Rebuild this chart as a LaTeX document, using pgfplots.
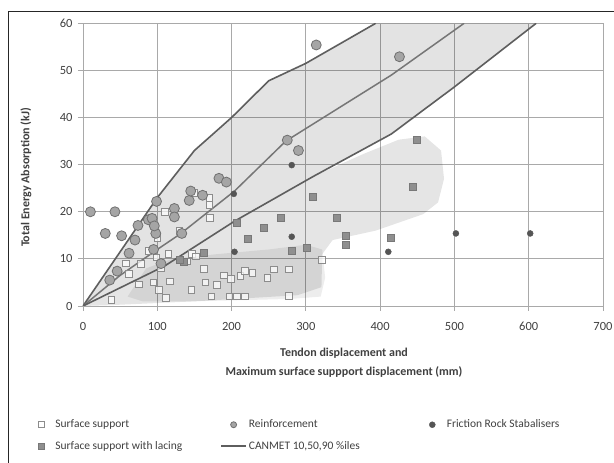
\documentclass[border=0pt]{standalone}
\usepackage{pgfplots}
\pgfplotsset{compat=1.18}
\usepackage{fontspec}
\setmainfont{Carlito}
\definecolor{gridc}{HTML}{A9A9A9}
\definecolor{linec}{HTML}{5E5E5E}
\definecolor{txt}{HTML}{404040}
\definecolor{reinf}{HTML}{A5A5A5}
\definecolor{reinfe}{HTML}{707070}
\definecolor{lace}{HTML}{8F8F8F}
\definecolor{lacee}{HTML}{787878}
\definecolor{ssedge}{HTML}{8C8C8C}
\definecolor{frs}{HTML}{555555}
\pgfplotsset{legimg/.style={legend image code/.code={\path[draw=none,fill=none] (0pt,-3pt) rectangle (25pt,3pt); \draw[mark repeat=2,mark phase=2,##1,mark size=3pt] plot coordinates {(0pt,0pt) (12.5pt,0pt) (25pt,0pt)};}}}
\begin{document}
\begin{tikzpicture}[x=1pt,y=1pt]
\useasboundingbox (0,0) rectangle (614,463);
\fill[white] (0,0) rectangle (614,463);
\draw[line width=1.2pt, black!85] (8.6,-5) -- (8.6,451.3) -- (620,451.3);
\begin{axis}[
  scale only axis, width=520pt, height=282.7pt,
  at={(83pt,157pt)}, anchor=origin,
  xmin=0, xmax=700, ymin=0, ymax=60,
  xtick={0,100,...,700}, ytick={0,10,...,60},
  grid=major, major grid style={gridc, line width=0.9pt},
  axis line style={gridc, line width=0.9pt},
  tick style={gridc, line width=0.9pt},
  tick align=outside, tick pos=left, major tick length=5pt,
  /pgf/number format/assume math mode=true,
  ticklabel style={font=\fontsize{12.5}{14}\selectfont, text=txt},
  xticklabel style={yshift=-8pt},
  yticklabel style={xshift=-2pt},
  legend columns=3, legend cell align=left,
  legend style={draw=none, fill=none, inner sep=0pt, outer sep=0pt,
    font=\fontsize{11.5}{13}\selectfont, text=txt,
    at={(axis description cs:-0.105,-0.458)}, anchor=west, row sep=8pt,
    /tikz/column 2/.style={column sep=36pt},
    /tikz/column 4/.style={column sep=58pt}},
]
% 10-90 percentile band
\addplot[draw=none, fill=black, fill opacity=0.11, forget plot] coordinates {
 (0,0) (50,11.5) (100,23) (150,33) (200,40) (250,47.8) (300,51.5) (394,60)
 (610,60) (500,46.5) (415,36.5) (310,27.5) (204,18) (110,8.5) (0,0)};
% surface support cloud
\addplot[draw=none, fill=black, fill opacity=0.10, forget plot] coordinates {
 (0,0) (110,8.5) (204,18) (310,27.5) (378,32.3) (425,35.3) (460,36) (482,33)
 (486,27) (478,22) (458,19.5) (394,16) (336,14) (322,11) (321,4) (289,2.3)
 (152,1) (40,0.2) (0,0)};
\addplot[draw=none, fill=black, fill opacity=0.07, forget plot] coordinates {
 (60,2) (85,8) (120,10) (180,11) (250,12) (300,13) (322,12) (326,6) (320,2)
 (280,1.5) (150,1) (80,1) (60,2)};
% CANMET lines
\addplot[linec, line width=1.6pt, forget plot] coordinates {
 (0,0) (50,11.5) (100,23) (150,33) (200,40) (250,47.8) (300,51.5) (394,60)};
\addplot[linec!85, line width=1.5pt, forget plot] coordinates {
 (0,0) (50,6.5) (100,12) (131,15.3) (204,24.4) (273,35) (415,49) (513,60)};
\addplot[linec, line width=1.6pt, forget plot] coordinates {
 (0,0) (110,8.5) (204,18) (310,27.5) (415,36.5) (500,46.5) (610,60)};
% Surface support
\addplot[only marks, legimg, mark=square*, mark size=3.3pt,
  mark options={fill=white, fill opacity=0.7, draw=ssedge, line width=0.8pt}] coordinates {
 (38,1.3) (112,1.7) (173,2) (197,2) (207,2) (218,2) (277,2.1) (102,3.4)
 (146,3.4) (117,5.2) (75,4.6) (165,5) (180,4.5) (199,5.7) (212,6.4) (218,7.4)
 (248,5.9) (257,7.8) (277,7.8) (322,9.8) (163,7.9) (147,11.1) (115,11) (99,10.3)
 (88,11.7) (100,14.5) (62,6.8) (78,8.9) (162,23.7) (170,21.4) (171,18.7) (95,5)
 (105,8) (190,6.5) (228,7) (140,9.5) (152,10.5) (58,9) (130,16) (110,20)
 (150,24) (170,23)};
\addlegendentry{Surface support}
% Reinforcement
\addplot[only marks, legimg, mark=*, mark size=5pt,
  mark options={fill=reinf, draw=reinfe, line width=0.8pt}] coordinates {
 (10,20) (43,20) (30,15.4) (52,14.9) (74,17.1) (88,18.3) (93,18.6) (98,15.4)
 (96,17) (99,22.2) (123,20.7) (123,18.9) (133,15.4) (143,22.4) (145,24.4)
 (161,23.5) (183,27.1) (193,26.3) (275,35.2) (290,33) (314,55.4) (426,52.9)
 (70,14) (62,11.2) (46,7.4) (36,5.5) (105,9) (95,12)};
\addlegendentry{Reinforcement}
% Friction Rock Stabalisers
\addplot[only marks, legimg, mark=*, mark size=3pt,
  mark options={fill=frs, draw=frs}] coordinates {
 (502,15.4) (602,15.4) (411,11.5) (204,11.5) (281,14.7) (281,29.9) (203,23.8)};
\addlegendentry{Friction Rock Stabalisers}
% Surface support with lacing
\addplot[only marks, legimg, mark=square*, mark size=3.5pt,
  mark options={fill=lace, draw=lacee, line width=0.6pt}] coordinates {
 (449,35.2) (444,25.2) (310,23.2) (341,18.8) (354,15) (354,13) (414,14.4)
 (266,18.8) (244,16.7) (222,14.3) (281,11.7) (162,11.2) (136,9.4) (301,12.4)
 (207,17.7) (130,9.8)};
\addlegendentry{Surface support with lacing}
\addlegendimage{linec, line width=1.6pt, legimg}
\addlegendentry{CANMET 10,50,90 \%iles}
\end{axis}
\node[font=\bfseries\fontsize{12}{14}\selectfont, text=txt, rotate=90] at (26,285.5) {Total Energy Absorption (kJ)};
\node[font=\bfseries\fontsize{12}{19}\selectfont, text=txt, align=center] at (344,100.5) {Tendon displacement and\\Maximum surface suppport displacement (mm)};
\end{tikzpicture}
\end{document}
